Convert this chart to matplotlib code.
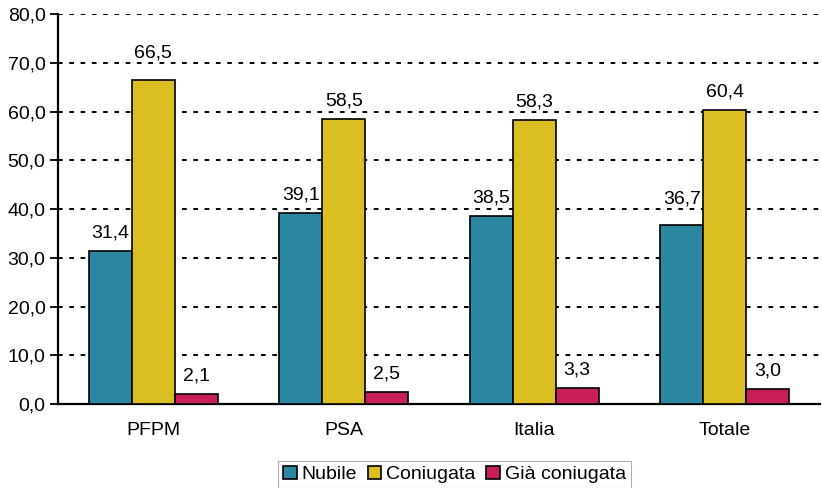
import matplotlib.pyplot as plt
import numpy as np

plt.rcParams['font.family'] = ['Liberation Sans', 'DejaVu Sans']

# data
categories = ["PFPM", "PSA", "Italia", "Totale"]
series_names = ["Nubile", "Coniugata", "Già coniugata"]
nubile = [31.4, 39.1, 38.5, 36.7]
coniugata = [66.5, 58.5, 58.3, 60.4]
gia_coniugata = [2.1, 2.5, 3.3, 3.0]
colors = ["#2C87A0", "#DABE22", "#C81F58"]

FS = 14
fig = plt.figure(figsize=(8.22, 4.88), dpi=100)
ax = fig.add_axes([0.0706, 0.172, 0.927, 0.799])

yticks = np.arange(0, 81, 10)
x = np.arange(len(categories))
w = 0.225
for i, (vals, name, c) in enumerate(zip([nubile, coniugata, gia_coniugata], series_names, colors)):
    pos = x + (i - 1) * w
    ax.bar(pos, vals, width=w, color=c, edgecolor="black", linewidth=1.2, label=name, zorder=3)
    for p, v in zip(pos, vals):
        # label above the bar, lifted over a gridline if it would cross one
        base = v + 2.8
        for g in yticks:
            if base - 0.3 < g < base + 3.1:
                base = g + 1.2
        ax.text(p, base, f"{v:.1f}".replace(".", ","), ha="center", va="baseline",
                fontsize=FS, zorder=4)

ax.set_xlim(-0.5, 3.5)
ax.set_ylim(0, 80)
ax.set_yticks(yticks)
ax.set_yticklabels([f"{t:.1f}".replace(".", ",") for t in yticks], fontsize=FS)
ax.set_xticks(x)
ax.set_xticklabels(categories, fontsize=FS)
ax.tick_params(axis="x", length=0, pad=13)
ax.tick_params(axis="y", length=6, width=1.3, direction="out", pad=3)

ax.yaxis.grid(True, color="black", linestyle=(0, (2.4, 3.4)), linewidth=1.4, zorder=0)
for s in ["top", "right"]:
    ax.spines[s].set_visible(False)
ax.spines["left"].set_linewidth(1.6)
ax.spines["bottom"].set_linewidth(1.6)

leg = fig.legend(loc="lower center", bbox_to_anchor=(0.553, -0.02), ncol=3, fontsize=FS,
                 frameon=True, fancybox=False, edgecolor="#999999", handlelength=0.7,
                 handleheight=0.7, handletextpad=0.25, columnspacing=0.55, borderpad=0.25)
leg.get_frame().set_linewidth(0.8)
for h in leg.legend_handles:
    h.set_linewidth(1.2)

fig.savefig("out.png", dpi=100)
